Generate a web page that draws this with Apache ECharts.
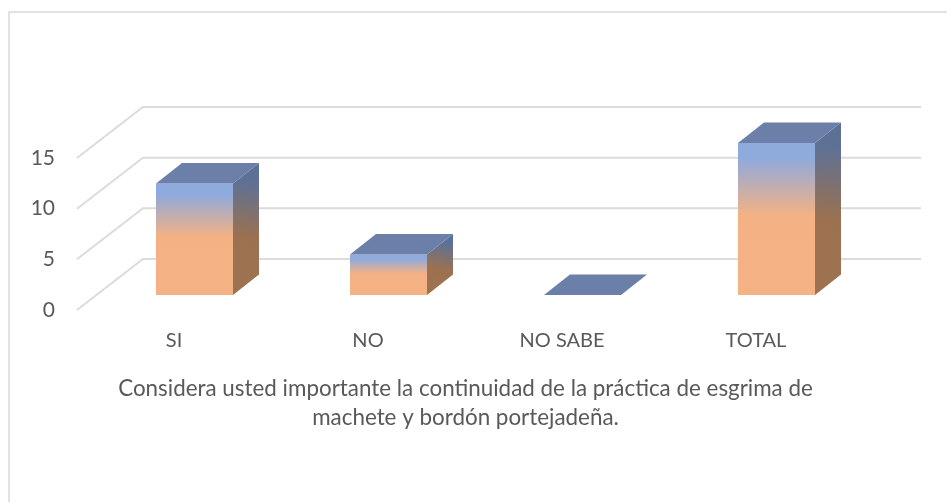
<!DOCTYPE html>
<html>
<head>
<meta charset="utf-8">
<style>html,body{margin:0;padding:0;background:#fff}#c{width:947px;height:502px}</style>
<script src="https://cdn.jsdelivr.net/npm/echarts@6/dist/echarts.min.js"></script>
</head>
<body>
<div id="c"></div>
<script>
const categories = ['SI', 'NO', 'NO SABE', 'TOTAL'];
const values = [11, 4, 0, 15];
const ticks = [0, 5, 10, 15];
const caption = 'Considera usted importante la continuidad de la práctica de esgrima de\nmachete y bordón portejadeña.';

const FONT = 'Lato';
const TEXT = '#595959';
const GRID = '#dcdcdc';
// Oblique projection of the 3D chart box
const WALL_DX = 66, WALL_DY = 51;      // front plane -> back wall
const WALL_EXTRA = 2;                  // back wall runs slightly past the last band
const BAR_DX = 20.5, BAR_DY = 15;      // front plane -> bar front face
const DEPTH_DX = 26, DEPTH_DY = 20.5;  // bar front face -> bar back face

const chart = echarts.init(document.getElementById('c'), null, {renderer: 'canvas'});
const G = echarts.graphic;
const frontFill = new G.LinearGradient(0, 0, 0, 1, [
  {offset: 0, color: '#8FAADC'}, {offset: 0.1, color: '#8FAADC'},
  {offset: 0.48, color: '#F4B183'}, {offset: 1, color: '#F5B285'}]);
const sideFill = new G.LinearGradient(0.7, 0, 0.3, 0.75, [
  {offset: 0, color: '#5A7096'}, {offset: 0.2, color: '#5F7195'},
  {offset: 0.75, color: '#9C7150'}, {offset: 1, color: '#9C7251'}]);
const TOP_FILL = '#6B7FA8';

function renderBar(params, api) {
  const base = api.coord([api.value(0), 0]);
  const head = api.coord([api.value(0), api.value(1)]);
  const w = api.size([1, 0])[0] * 0.397;
  const x0 = base[0] + BAR_DX - w / 2, x1 = x0 + w;
  const yb = base[1] - BAR_DY, yt = head[1] - BAR_DY;
  const kids = [];
  const poly = (points, fill) => kids.push({type: 'polygon', shape: {points}, style: {fill}, silent: true});
  if (yb - yt > 0.5) {
    poly([[x1, yt], [x1 + DEPTH_DX, yt - DEPTH_DY], [x1 + DEPTH_DX, yb - DEPTH_DY], [x1, yb]], sideFill);
    poly([[x0, yt], [x1, yt], [x1, yb], [x0, yb]], frontFill);
  }
  poly([[x0, yt], [x0 + DEPTH_DX, yt - DEPTH_DY], [x1 + DEPTH_DX, yt - DEPTH_DY], [x1, yt]], TOP_FILL);
  return {type: 'group', children: kids};
}

function renderWall(params, api) {
  const y = api.coord([0, api.value(1)])[1];
  const cs = params.coordSys;
  return {
    type: 'polyline', silent: true,
    shape: {points: [[cs.x, y], [cs.x + WALL_DX, y - WALL_DY], [cs.x + cs.width + WALL_DX + WALL_EXTRA, y - WALL_DY]]},
    style: {stroke: GRID, lineWidth: 2, fill: 'none'}
  };
}

chart.setOption({
  animation: false,
  backgroundColor: '#fff',
  textStyle: {fontFamily: FONT},
  title: {
    text: caption, left: 460.5, top: 369, textAlign: 'center',
    textStyle: {fontFamily: FONT, fontSize: 22.4, fontWeight: 'normal', color: TEXT, lineHeight: 29}
  },
  grid: {left: 77, width: 776, top: 158, height: 152, containLabel: false},
  xAxis: {
    type: 'category', data: categories,
    axisLine: {show: false}, axisTick: {show: false}, splitLine: {show: false},
    axisLabel: {color: TEXT, fontSize: 20, fontFamily: FONT, margin: 21, interval: 0}
  },
  yAxis: {
    type: 'value', min: 0, max: 15, interval: 5,
    axisLine: {show: false}, axisTick: {show: false}, splitLine: {show: false},
    axisLabel: {color: TEXT, fontSize: 21, fontFamily: FONT, margin: 22, lineHeight: 21, padding: [3, 0, 0, 0]}
  },
  graphic: [{
    type: 'polyline', silent: true,
    shape: {points: [[9, 502], [9, 12], [947, 12]]},
    style: {stroke: '#e2e2e2', lineWidth: 2, fill: 'none'}
  }],
  series: [
    {type: 'custom', name: 'walls', coordinateSystem: 'cartesian2d', renderItem: renderWall, clip: false, silent: true, z: 1,
     data: ticks.map(t => [0, t])},
    {type: 'custom', name: 'bars', coordinateSystem: 'cartesian2d', renderItem: renderBar, clip: false, silent: true, z: 2,
     data: values.map((v, i) => [i, v])}
  ]
});
</script>
</body>
</html>
